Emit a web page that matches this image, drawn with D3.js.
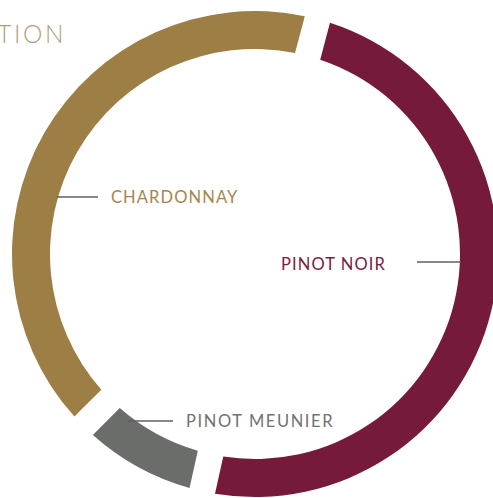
<!DOCTYPE html>
<html>
<head>
<meta charset="utf-8">
<script src="https://cdn.jsdelivr.net/npm/d3@7"></script>
<style>
  html, body { margin: 0; padding: 0; background: #fff; overflow: hidden; }
  svg { display: block; }
</style>
</head>
<body>
<svg id="chart" width="493" height="498"></svg>
<script>
// ---- data ----
const categories = ["PINOT NOIR", "PINOT MEUNIER", "CHARDONNAY"];
const shares = [50, 8, 42];
const colors = ["#761a3b", "#6b6d6b", "#9d7e44"];
const textColors = ["#7a2040", "#707270", "#a4864d"];
const title = "COMPOSITION";

// ---- layout ----
const W = 493, H = 498;
const cx = 255, cy = 254;
const rInner = 205, rOuter = 243;

const svg = d3.select("#chart");

svg.append("text")
  .attr("x", 66).attr("y", 43)
  .attr("text-anchor", "end")
  .attr("font-family", "Lato, sans-serif")
  .attr("font-weight", 300)
  .attr("font-size", 24.5)
  .attr("letter-spacing", 2.6)
  .attr("fill", "#b39d78")
  .text(title);

const data = categories.map((c, i) => ({ name: c, value: shares[i], color: colors[i], tcolor: textColors[i] }));

const pie = d3.pie()
  .value(d => d.value)
  .sort(null)
  .startAngle(14.9 * Math.PI / 180)
  .endAngle(14.9 * Math.PI / 180 + 2 * Math.PI)
  .padAngle(0.082);

const arc = d3.arc().innerRadius(rInner).outerRadius(rOuter);

const g = svg.append("g").attr("transform", `translate(${cx},${cy})`);
const arcs = pie(data);

g.selectAll("path.slice")
  .data(arcs)
  .join("path")
  .attr("class", "slice")
  .attr("d", arc)
  .attr("fill", d => d.data.color);

// label layout
const labelLayout = {
  "PINOT NOIR": { lx1: 417, lx2: 461, ly: 262, tx: 386, ty: 264, anchor: "end", ls: 1.1 },
  "PINOT MEUNIER": { lx1: 128, lx2: 173, ly: 421, tx: 186, ty: 421, anchor: "start", ls: 1.6 },
  "CHARDONNAY": { lx1: 57, lx2: 98, ly: 197, tx: 111, ty: 197, anchor: "start", ls: 1.1 }
};

const lg = svg.append("g");
arcs.forEach(a => {
  const L = labelLayout[a.data.name];
  lg.append("line")
    .attr("x1", L.lx1).attr("x2", L.lx2)
    .attr("y1", L.ly).attr("y2", L.ly)
    .attr("stroke", "#5f5f5f")
    .attr("stroke-width", 1.3);
  lg.append("text")
    .attr("x", L.tx).attr("y", L.ty)
    .attr("dy", "0.36em")
    .attr("text-anchor", L.anchor)
    .attr("font-family", "Lato, sans-serif")
    .attr("font-size", 16.5)
    .attr("letter-spacing", L.ls)
    .attr("fill", a.data.tcolor)
    .text(a.data.name);
});
</script>
</body>
</html>
